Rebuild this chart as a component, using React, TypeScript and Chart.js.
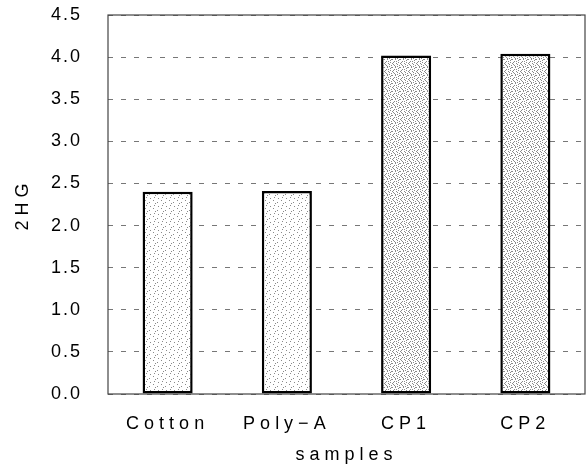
import React, { useEffect, useRef } from "react";
import { Chart, registerables } from "chart.js";

Chart.register(...registerables);

const categories = ["Cotton", "Poly\u2212A", "CP1", "CP2"];
const values = [2.40, 2.41, 4.02, 4.04];
const density = [5, 5, 16, 16];
const yTicks = [0, 0.5, 1, 1.5, 2, 2.5, 3, 3.5, 4, 4.5];
const xTitle = "samples";
const yTitle = "2HG";

function makePattern(n: number): CanvasPattern | string {
  const c = document.createElement("canvas");
  c.width = 8;
  c.height = 8;
  const g = c.getContext("2d");
  if (!g) return "#eee";
  g.fillStyle = "#ffffff";
  g.fillRect(0, 0, 8, 8);
  g.fillStyle = "#8a8a8a";
  const spots = [
    [1, 0], [5, 2], [2, 5], [6, 6], [3, 3], [7, 1], [0, 7], [4, 7],
    [6, 4], [0, 3], [2, 1], [4, 5], [7, 3], [1, 6], [5, 0], [3, 2],
  ];
  for (let i = 0; i < n; i++) g.fillRect(spots[i][0], spots[i][1], 1, 1);
  const p = g.createPattern(c, "repeat");
  return p || "#eee";
}

const framePlugin = {
  id: "frame",
  beforeDraw(chart: any) {
    chart.ctx.letterSpacing = "5px";
  },
  afterLayout(chart: any) {
    const y = chart.scales.y;
    if (y && !y._patched) {
      const orig = y.drawLabels.bind(y);
      y.drawLabels = (area: any) => {
        const ctx = chart.ctx;
        const prev = ctx.letterSpacing;
        ctx.letterSpacing = "2px";
        orig(area);
        ctx.letterSpacing = prev;
      };
      y._patched = true;
    }
  },
  afterDraw(chart: any) {
    const { ctx, chartArea: a } = chart;
    ctx.save();
    ctx.strokeStyle = "#444";
    ctx.lineWidth = 1.2;
    ctx.strokeRect(a.left, a.top, a.right - a.left, a.bottom - a.top);
    ctx.restore();
  },
};

export default function App() {
  const ref = useRef<HTMLCanvasElement | null>(null);
  useEffect(() => {
    if (!ref.current) return;
    const font = { family: "'Liberation Sans', Arial, sans-serif", size: 18 };
    const chart = new Chart(ref.current, {
      type: "bar",
      data: {
        labels: categories,
        datasets: [
          {
            data: values,
            backgroundColor: density.map((d) => makePattern(d)) as any,
            borderColor: "#000",
            borderWidth: 2.5,
            borderSkipped: false,
            barPercentage: 0.42,
            categoryPercentage: 1,
          },
        ],
      },
      plugins: [framePlugin],
      options: {
        animation: false,
        responsive: true,
        maintainAspectRatio: false,
        layout: { padding: { top: 15, right: 2, left: 0, bottom: 0 } },
        plugins: { legend: { display: false }, tooltip: { enabled: false } },
        scales: {
          x: {
            grid: { display: false },
            border: { display: false },
            ticks: { color: "#000", font, padding: 11, maxRotation: 0, autoSkip: false },
            title: { display: true, text: xTitle, color: "#000", font, padding: { top: 9, bottom: 0 } },
            afterFit: (s: any) => { s.height = 72; },
          },
          y: {
            min: 0,
            max: 4.5,
            afterBuildTicks: (s: any) => { s.ticks = yTicks.map((v) => ({ value: v })); },
            grid: { color: "#777", lineWidth: 1, drawTicks: true, tickLength: 23, tickColor: "rgba(0,0,0,0)" },
            border: { display: false, dash: [5, 8] },
            ticks: {
              color: "#000",
              font,
              padding: 3,
              callback: (v: any) => Number(v).toFixed(1),
            },
            title: { display: true, text: yTitle, color: "#000", font, padding: { top: 12, bottom: 0 } },
            afterFit: (s: any) => { s.width = 108; },
          },
        },
      },
    });
    return () => chart.destroy();
  }, []);
  return (
    <div style={{ position: "absolute", left: 0, top: 0, width: 587, height: 466 }}>
      <canvas ref={ref} />
    </div>
  );
}
